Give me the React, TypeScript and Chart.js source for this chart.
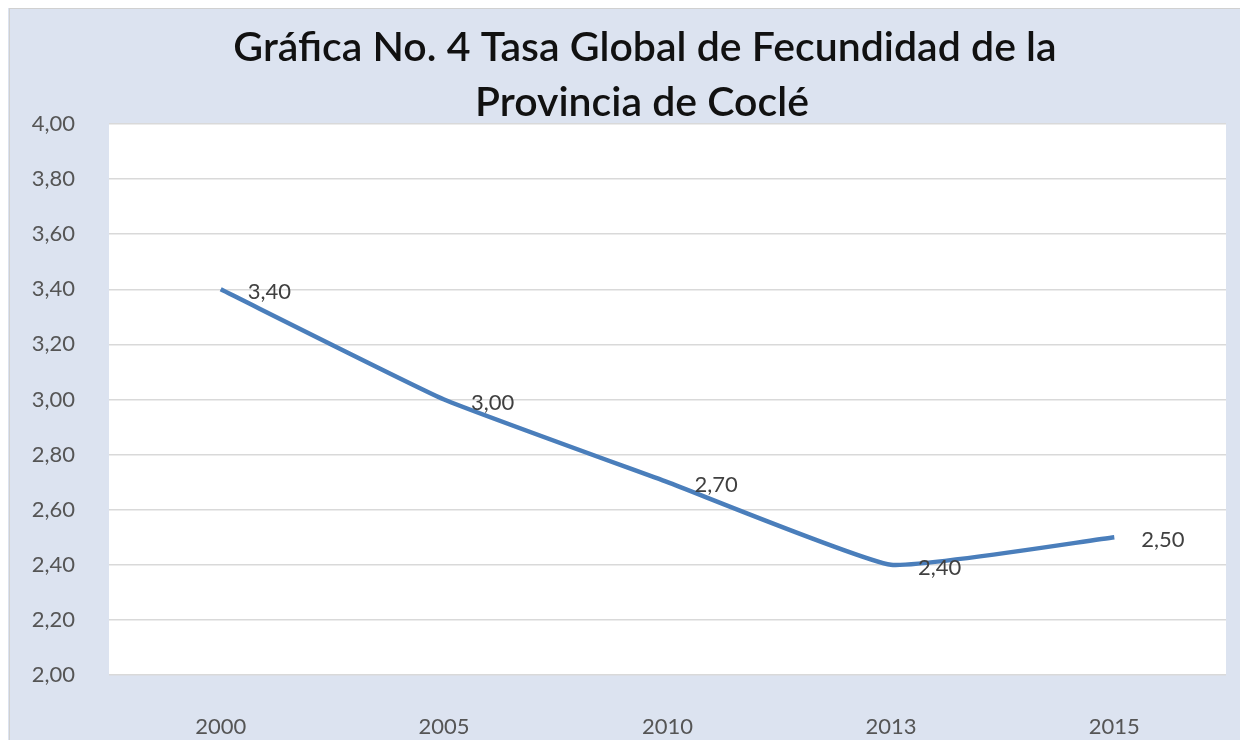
import React, { useEffect, useRef } from "react";
import { Chart, registerables } from "chart.js";

Chart.register(...registerables);

const titleLines = ["Gráfica No. 4 Tasa Global de Fecundidad de la", "Provincia de Coclé"];
const years = ["2000", "2005", "2010", "2013", "2015"];
const rates = [3.4, 3.0, 2.7, 2.4, 2.5];
const yMin = 2.0;
const yMax = 4.0;
const yStep = 0.2;

const FONT = "Lato, 'Open Sans', sans-serif";
const fmt = (v: number) => v.toFixed(2).replace(".", ",");

export default function App() {
  const ref = useRef<HTMLCanvasElement | null>(null);

  useEffect(() => {
    if (!ref.current) return;
    const bgPlugin = {
      id: "bgPlugin",
      beforeDraw(chart: any) {
        const { ctx, width, height, chartArea } = chart;
        ctx.save();
        ctx.fillStyle = "#dce3f0";
        ctx.fillRect(0, 0, width, height);
        ctx.strokeStyle = "#d0d0d0";
        ctx.lineWidth = 1;
        ctx.strokeRect(1.5, 0.5, width, height);
        ctx.fillStyle = "#ffffff";
        ctx.fillRect(chartArea.left, chartArea.top, chartArea.right - chartArea.left, chartArea.bottom - chartArea.top);
        ctx.restore();
      },
      afterDraw(chart: any) {
        const { ctx } = chart;
        ctx.save();
        ctx.fillStyle = "#111111";
        ctx.font = `600 41px ${FONT}`;
        ctx.textAlign = "center";
        ctx.textBaseline = "middle";
        ctx.fillText(titleLines[0], 637, 40);
        ctx.fillText(titleLines[1], 634, 95);
        // data labels
        const meta = chart.getDatasetMeta(0);
        ctx.font = `22px ${FONT}`;
        ctx.fillStyle = "#404040";
        ctx.textAlign = "left";
        meta.data.forEach((pt: any, i: number) => {
          ctx.fillText(fmt(rates[i]), pt.x + 27, pt.y + 3);
        });
        ctx.restore();
      },
    };

    const chart = new Chart(ref.current, {
      type: "line",
      data: {
        labels: years,
        datasets: [
          {
            data: rates,
            borderColor: "#4a7ebb",
            borderWidth: 4.5,
            pointRadius: 0,
            tension: 0.12,
            fill: false,
          },
        ],
      },
      options: {
        animation: false,
        responsive: false,
        maintainAspectRatio: false,
        layout: { padding: { top: 116, right: 22, left: 0, bottom: 0 } },
        plugins: {
          legend: { display: false },
          title: { display: false },
          tooltip: { enabled: false },
        },
        scales: {
          x: {
            offset: true,
            grid: { display: false, drawTicks: false },
            border: { display: false },
            ticks: {
              padding: 39,
              color: "#555555",
              font: { family: FONT, size: 22 },
            },
            afterFit(scale: any) {
              scale.height = 65;
            },
          },
          y: {
            min: yMin,
            max: yMax,
            grid: { color: "#d9d9d9", lineWidth: 1.5, drawTicks: false },
            border: { display: false },
            ticks: {
              stepSize: yStep,
              padding: 34,
              color: "#555555",
              font: { family: FONT, size: 22 },
              callback: (v: any) => fmt(Number(v)),
            },
            afterFit(scale: any) {
              scale.width = 101;
            },
          },
        },
      },
      plugins: [bgPlugin],
    });
    return () => chart.destroy();
  }, []);

  return (
    <div style={{ width: 1240, height: 732 }}>
      <canvas ref={ref} width={1240} height={732} style={{ display: "block" }} />
    </div>
  );
}
